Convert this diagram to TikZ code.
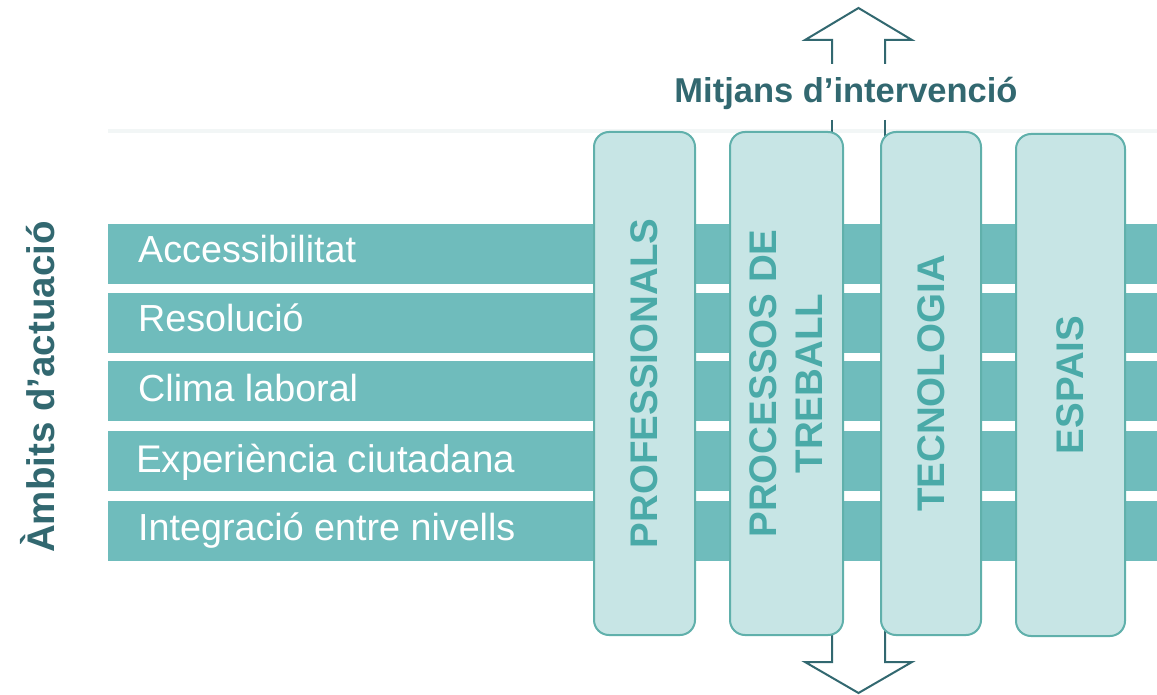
\documentclass[tikz,border=0pt]{standalone}
\usepackage{fontspec}
\setmainfont{Liberation Sans}
\definecolor{bandc}{RGB}{111,188,188}
\definecolor{colfill}{RGB}{199,229,229}
\definecolor{colborder}{RGB}{96,176,171}
\definecolor{coltext}{RGB}{74,170,168}
\definecolor{darkteal}{RGB}{50,104,112}
\definecolor{faint}{RGB}{242,246,246}
\tikzset{
  band/.style={fill=bandc, draw=none, anchor=north west, minimum width=1049pt, minimum height=60pt, inner sep=0pt},
  bandlabel/.style={anchor=base west, text=white, inner sep=0pt, font=\fontsize{37.7}{44}\selectfont},
  colbox/.style={rotate=90, fill=colfill, draw=colborder, line width=2pt, rounded corners=15pt,
     inner sep=0pt, text=coltext, align=center, font=\bfseries\fontsize{38.5}{46}\selectfont},
  outline/.style={draw=darkteal, line width=2pt, line join=miter}
}
\begin{document}
\begin{tikzpicture}[x=1pt,y=-1pt]
\useasboundingbox (0,0) rectangle (1157,695);
\fill[white] (0,0) rectangle (1157,695);
% faint line
\draw[faint, line width=4pt] (108,131) -- (1157,131);
% bands
\node[band] (b1) at (108,224) {};
\node[band] (b2) at (108,293) {};
\node[band] (b3) at (108,361) {};
\node[band] (b4) at (108,431) {};
\node[band] (b5) at (108,501) {};
\node[bandlabel] (l1) at (138,263) {Accessibilitat};
\node[bandlabel] (l2) at (138,331) {Resolució};
\node[bandlabel] (l3) at (138,401) {Clima laboral};
\node[bandlabel, font=\fontsize{38.5}{44}\selectfont] (l4) at (136,472) {Experiència ciutadana};
\node[bandlabel] (l5) at (138,540) {Integració entre nivells};
% left label
\node[rotate=90, text=darkteal, inner sep=0pt, font=\bfseries\fontsize{38.5}{44}\selectfont] (ambits) at (38,387) {Àmbits d’actuació};
% arrows
\coordinate (ul) at (832,64);
\coordinate (ur) at (885,64);
\draw[outline] (ul) -- (832,40) -- (805,40) -- (858.5,8) -- (912,40) -- (885,40) -- (ur);
\draw[outline] (832,120) -- (832,140);
\draw[outline] (885,120) -- (885,140);
\coordinate (dl) at (832,630);
\coordinate (dr) at (885,630);
\draw[outline] (dl) -- (832,662) -- (805,662) -- (858.5,693) -- (912,662) -- (885,662) -- (dr);
% title
\node[text=darkteal, inner sep=0pt, font=\bfseries\fontsize{34.5}{40}\selectfont, anchor=base] (title) at (846,103) {Mitjans d’intervenció};
% columns
\node[colbox, minimum width=503pt, minimum height=101pt] (prof) at (644.5,383.5) {PROFESSIONALS};
\node[colbox, minimum width=503pt, minimum height=113pt] (proc) at (786.5,383.5) {PROCESSOS DE\\TREBALL};
\node[colbox, minimum width=503pt, minimum height=100pt] (tec) at (931,383.5) {TECNOLOGIA};
\node[colbox, minimum width=502pt, minimum height=109pt] (esp) at (1070.5,385) {ESPAIS};
\end{tikzpicture}
\end{document}
